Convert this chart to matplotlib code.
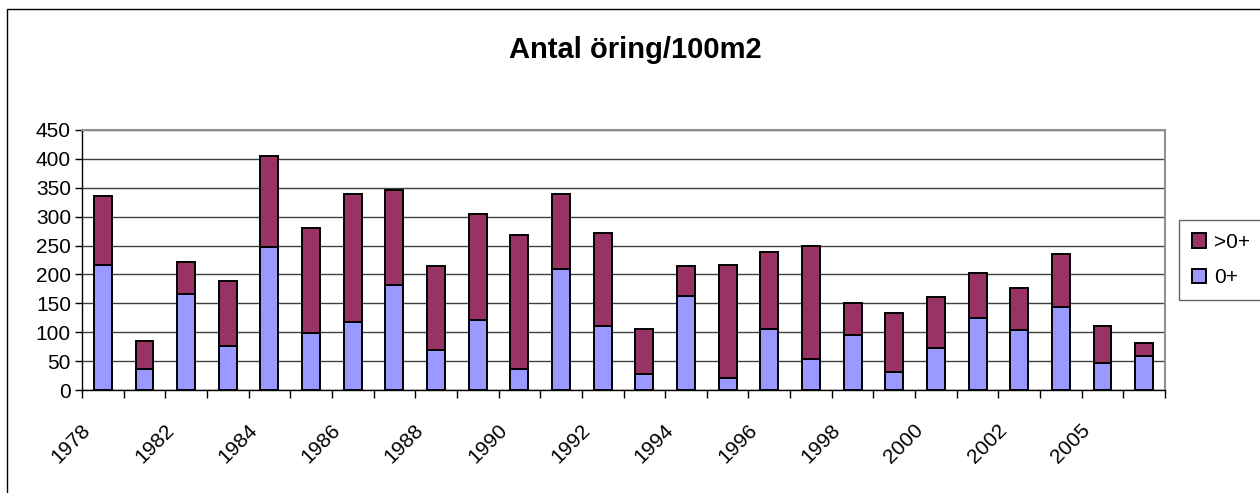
import matplotlib
matplotlib.use("Agg")
import matplotlib.pyplot as plt
from matplotlib.patches import Rectangle, Patch
from matplotlib.transforms import ScaledTranslation
import numpy as np

plt.rcParams['font.family'] = ['Liberation Sans', 'DejaVu Sans']

years = ['1978', '1980', '1982', '1983', '1984', '1985', '1986', '1987', '1988',
         '1989', '1990', '1991', '1992', '1993', '1994', '1995', '1996', '1997',
         '1998', '1999', '2000', '2001', '2002', '2004', '2005', '2006']
young = [217, 36, 166, 77, 247, 99, 118, 181, 70, 121, 36, 210, 110, 28, 162,
         21, 106, 54, 95, 32, 73, 125, 103, 143, 47, 58]
older = [118, 49, 55, 111, 158, 181, 221, 165, 144, 184, 233, 129, 162, 78, 52,
         196, 133, 196, 56, 101, 88, 78, 74, 93, 63, 23]
title = 'Antal öring/100m2'

W, H = 1260, 493
fig = plt.figure(figsize=(W / 100, H / 100), dpi=100)
ax = fig.add_axes([82 / W, 1 - 390 / H, (1165 - 82) / W, (390 - 130) / H])

x = np.arange(len(years))
c_young = '#9999FF'
c_old = '#993366'
bw = 0.43
ax.bar(x, young, bw, color=c_young, edgecolor='black', linewidth=1.4, zorder=3, label='0+')
ax.bar(x, older, bw, bottom=young, color=c_old, edgecolor='black', linewidth=1.4, zorder=3, label='>0+')

ax.set_xlim(-0.5, len(years) - 0.5)
ax.set_ylim(0, 450)
ax.set_yticks(np.arange(0, 451, 50))
ax.yaxis.grid(True, color='#404040', linewidth=1.0, zorder=1)
ax.tick_params(axis='y', direction='out', length=5, width=1, labelsize=15, pad=3)

# category boundary ticks
ax.set_xticks(np.arange(-0.5, len(years), 1.0))
ax.set_xticklabels([])
ax.tick_params(axis='x', which='major', direction='out', length=6, width=1)

# rotated category labels (every second category), Excel-style anchoring
offset = ScaledTranslation(-0.22, -0.305, fig.dpi_scale_trans)
for i in range(0, len(years), 2):
    ax.text(x[i], 0, years[i], transform=ax.get_xaxis_transform() + offset,
            rotation=45, rotation_mode='anchor', ha='right', va='top', fontsize=15)

for s in ['left', 'bottom']:
    ax.spines[s].set_color('black')
    ax.spines[s].set_linewidth(1.0)
for s in ['top', 'right']:
    ax.spines[s].set_color('#909090')
    ax.spines[s].set_linewidth(1.5)

fig.text(635 / W, 1 - 50 / H, title, ha='center', va='center', fontsize=21, fontweight='bold')

handles = [Patch(facecolor=c_old, edgecolor='black', linewidth=1.4, label='>0+'),
           Patch(facecolor=c_young, edgecolor='black', linewidth=1.4, label='0+')]
leg = fig.legend(handles=handles, loc='center', bbox_to_anchor=(1221 / W, 1 - 260 / H),
                 fontsize=15, frameon=True, fancybox=False, handlelength=0.7,
                 handleheight=0.7, handletextpad=0.4, labelspacing=0.8,
                 borderpad=0.6)
leg.get_frame().set_edgecolor('#404040')
leg.get_frame().set_linewidth(1.0)

# outer chart border (left and top visible)
fig.patches.append(Rectangle((6.5 / W, -0.1), 1.2, 1 - 8.5 / H + 0.1, transform=fig.transFigure,
                             fill=False, edgecolor='black', linewidth=1.0))

fig.savefig('out.png', dpi=100)
